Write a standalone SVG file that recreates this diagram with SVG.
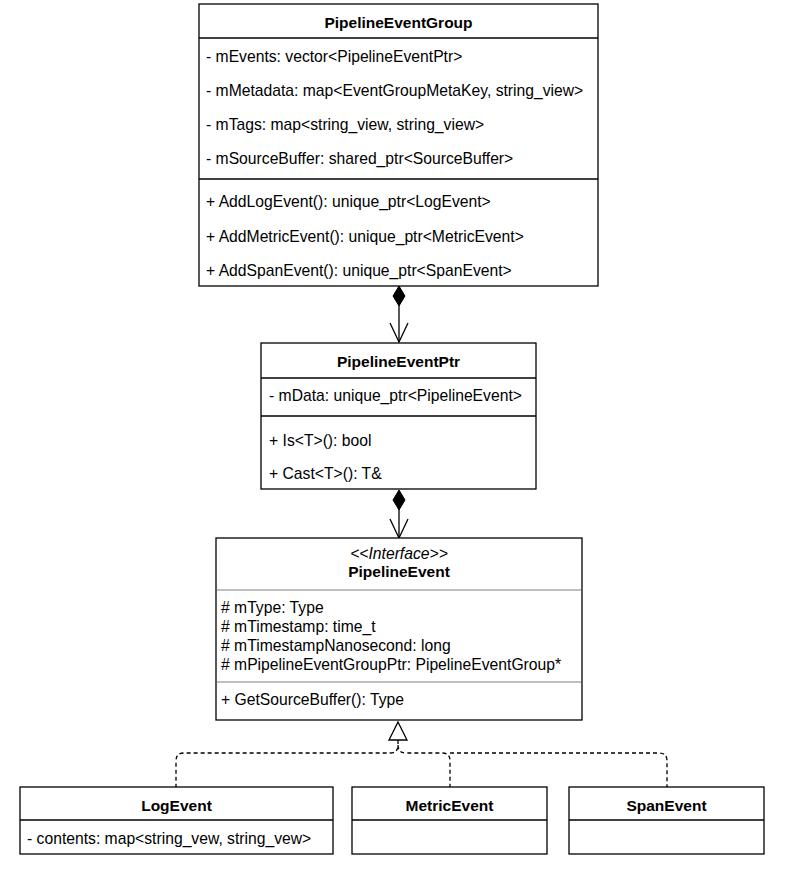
<svg xmlns="http://www.w3.org/2000/svg" width="806" height="869" viewBox="0 0 806 869">
<style>
.box{fill:#fff;stroke:#000;stroke-width:1.3}
.div{stroke:#000;stroke-width:1.3}
.gdiv{stroke:#aaa;stroke-width:1.3}
text{font-family:"Liberation Sans",Arial,sans-serif;font-size:15.7px;fill:#000}
.t{font-weight:bold;text-anchor:middle;font-size:15.5px}
.it{font-style:italic;text-anchor:middle}
.ln{fill:none;stroke:#000;stroke-width:1.3}
.dash{fill:none;stroke:#000;stroke-width:1.3;stroke-dasharray:4 3}
</style>
<rect width="806" height="869" fill="#fff"/>
<g id="connectors">
  <line class="ln" x1="399" y1="305" x2="399" y2="342"/>
  <path class="ln" d="M390,323 L399,342 L408,323"/>
  <path d="M399,286 L405,296 L399,306 L393,296 Z" fill="#000" stroke="#000"/>
  <line class="ln" x1="399" y1="509" x2="399" y2="538"/>
  <path class="ln" d="M390,519 L399,538 L408,519"/>
  <path d="M399,490 L405,500 L399,510 L393,500 Z" fill="#000" stroke="#000"/>
  <path class="dash" d="M398,740 L398,745 Q398,753 390,753 L184,753 Q176,753 176,761 L176,787"/>
  <path class="dash" d="M398,745 Q398,753 406,753 L442,753 Q450,753 450,761 L450,787"/>
  <path class="dash" d="M450,753 L659,753 Q667,753 667,761 L667,787"/>
  <path d="M398,722 L407,740 L389,740 Z" fill="#fff" stroke="#000" stroke-width="1.3"/>
</g>
<g id="PipelineEventGroup">
  <rect class="box" x="199" y="4" width="399" height="282"/>
  <line class="div" x1="199" y1="38" x2="598" y2="38"/>
  <line class="div" x1="199" y1="179" x2="598" y2="179"/>
  <text class="t" x="398.5" y="28">PipelineEventGroup</text>
  <text x="206" y="62">- mEvents: vector&lt;PipelineEventPtr&gt;</text>
  <text x="206" y="96">- mMetadata: map&lt;EventGroupMetaKey, string_view&gt;</text>
  <text x="206" y="130">- mTags: map&lt;string_view, string_view&gt;</text>
  <text x="206" y="164">- mSourceBuffer: shared_ptr&lt;SourceBuffer&gt;</text>
  <text x="206" y="207">+ AddLogEvent(): unique_ptr&lt;LogEvent&gt;</text>
  <text x="206" y="242">+ AddMetricEvent(): unique_ptr&lt;MetricEvent&gt;</text>
  <text x="206" y="276">+ AddSpanEvent(): unique_ptr&lt;SpanEvent&gt;</text>
</g>
<g id="PipelineEventPtr">
  <rect class="box" x="261" y="343" width="275" height="146"/>
  <line class="div" x1="261" y1="378" x2="536" y2="378"/>
  <line class="div" x1="261" y1="416" x2="536" y2="416"/>
  <text class="t" x="398.5" y="367">PipelineEventPtr</text>
  <text x="269" y="401">- mData: unique_ptr&lt;PipelineEvent&gt;</text>
  <text x="269" y="446">+ Is&lt;T&gt;(): bool</text>
  <text x="269" y="479">+ Cast&lt;T&gt;(): T&amp;</text>
</g>
<g id="PipelineEvent">
  <rect class="box" x="216" y="538" width="366" height="182"/>
  <line class="gdiv" x1="217" y1="590" x2="581" y2="590"/>
  <line class="gdiv" x1="217" y1="682" x2="581" y2="682"/>
  <text class="it" x="399" y="559">&lt;&lt;Interface&gt;&gt;</text>
  <text class="t" x="399" y="577">PipelineEvent</text>
  <text x="221" y="613"># mType: Type</text>
  <text x="221" y="632"># mTimestamp: time_t</text>
  <text x="221" y="651"># mTimestampNanosecond: long</text>
  <text x="221" y="670"># mPipelineEventGroupPtr: PipelineEventGroup*</text>
  <text x="221" y="705">+ GetSourceBuffer(): Type</text>
</g>
<g id="LogEvent">
  <rect class="box" x="20" y="787" width="313" height="67"/>
  <line class="div" x1="20" y1="820" x2="333" y2="820"/>
  <text class="t" x="176.5" y="811">LogEvent</text>
  <text x="27" y="844">- contents: map&lt;string_vew, string_vew&gt;</text>
</g>
<g id="MetricEvent">
  <rect class="box" x="352" y="787" width="195" height="67"/>
  <line class="div" x1="352" y1="820" x2="547" y2="820"/>
  <text class="t" x="449.5" y="811">MetricEvent</text>
</g>
<g id="SpanEvent">
  <rect class="box" x="569" y="787" width="195" height="67"/>
  <line class="div" x1="569" y1="820" x2="764" y2="820"/>
  <text class="t" x="666.5" y="811">SpanEvent</text>
</g>
</svg>
